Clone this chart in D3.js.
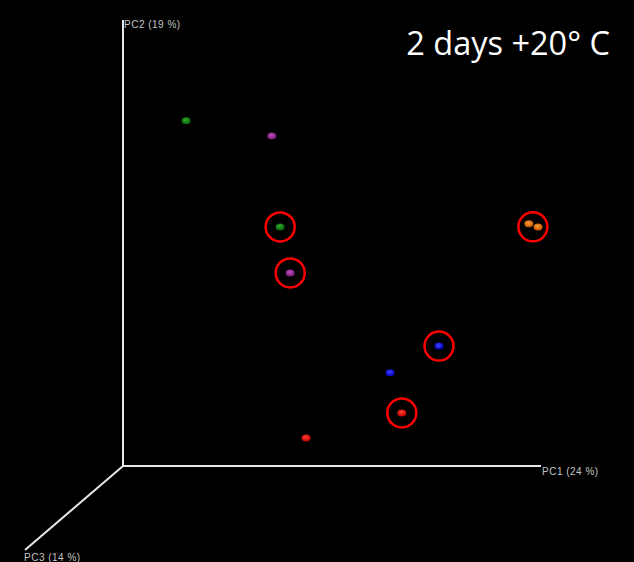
<!DOCTYPE html>
<html lang="en">
<head>
    <meta charset="UTF-8">
    <title>PCoA 2 days +20 C</title>
    <script src="https://d3js.org/d3.v7.min.js"></script>
    <style>
        body { margin: 0; background: #000; }
    </style>
</head>
<body>
<script>
    const width  = 634;
    const height = 562;

    // projected sample positions (PC1 / PC2, % of axis length)
    const samples  = ['G1', 'M1', 'G2', 'M2', 'O1', 'O2', 'B1', 'B2', 'R1', 'R2'];
    const groups   = ['green', 'magenta', 'green', 'magenta', 'orange', 'orange', 'blue', 'blue', 'red', 'red'];
    const pc1      = [15.1, 35.6, 37.6, 40.0, 97.1, 99.3, 75.6, 63.9, 66.7, 43.8];
    const pc2      = [77.4, 74.0, 53.6, 43.3, 54.3, 53.6, 26.9, 20.9, 11.9, 6.3];
    const circled  = [false, false, true, true, true, false, true, false, true, false];
    const axisLabels = ['PC1 (24 %)', 'PC2 (19 %)', 'PC3 (14 %)'];
    const title = '2 days +20\u00B0 C';

    const colors = {
        green:   ['#2fb02f', '#075a07'],
        magenta: ['#c050c0', '#701870'],
        orange:  ['#ff9a38', '#c05400'],
        blue:    ['#4040ff', '#0000b8'],
        red:     ['#ff4030', '#c00000']
    };

    const origin = [123, 466];
    const x = d3.scaleLinear().domain([0, 100]).range([origin[0], 541]);
    const y = d3.scaleLinear().domain([0, 100]).range([origin[1], 20]);
    const z = d3.scaleLinear().domain([0, 100]).range([0, 1]); // depth along PC3 direction

    const svg = d3.select("body")
            .append("svg")
            .attr("width", width)
            .attr("height", height)
            .style("background", "#000");

    const defs = svg.append("defs");
    Object.keys(colors).forEach(k => {
        const grad = defs.append("radialGradient")
                .attr("id", "g-" + k)
                .attr("cx", "45%").attr("cy", "40%").attr("r", "60%");
        grad.append("stop").attr("offset", "0%").attr("stop-color", colors[k][0]);
        grad.append("stop").attr("offset", "100%").attr("stop-color", colors[k][1]);
    });

    // axes
    const axes = svg.append("g")
            .attr("stroke", "#e8e8e8")
            .attr("stroke-width", 2);
    axes.append("line")
            .attr("x1", x(0)).attr("y1", y(0))
            .attr("x2", x(100)).attr("y2", y(0));
    axes.append("line")
            .attr("x1", x(0)).attr("y1", y(0))
            .attr("x2", x(0)).attr("y2", y(100));
    axes.append("line")
            .attr("x1", x(0)).attr("y1", y(0))
            .attr("x2", x(0) - 98 * z(100)).attr("y2", y(0) + 84 * z(100));

    const labelStyle = sel => sel
            .attr("fill", "#c4c4c4")
            .attr("font-family", "Liberation Sans, Arial, sans-serif")
            .attr("font-size", 10)
            .attr("letter-spacing", 0.5);

    svg.append("text").text(axisLabels[0])
            .attr("x", x(100) + 1).attr("y", y(0) + 9).call(labelStyle);
    svg.append("text").text(axisLabels[1])
            .attr("x", x(0) + 1).attr("y", y(100) + 8).call(labelStyle);
    svg.append("text").text(axisLabels[2])
            .attr("x", 24).attr("y", 561).call(labelStyle);

    // sample points
    const idx = d3.range(samples.length);
    svg.append("g")
            .selectAll("ellipse")
            .data(idx)
            .join("ellipse")
            .attr("cx", i => x(pc1[i]))
            .attr("cy", i => y(pc2[i]))
            .attr("rx", 4.5)
            .attr("ry", 3.5)
            .attr("fill", i => "url(#g-" + groups[i] + ")");

    // red highlight circles
    svg.append("g")
            .selectAll("circle")
            .data(idx.filter(i => circled[i]))
            .join("circle")
            .attr("cx", i => x(pc1[i]) + (groups[i] === 'orange' ? 4 : 0))
            .attr("cy", i => y(pc2[i]) + (groups[i] === 'orange' ? 3 : 0))
            .attr("r", 14.5)
            .attr("fill", "none")
            .attr("stroke", "#ff0000")
            .attr("stroke-width", 2.5);

    svg.append("text")
            .text(title)
            .attr("x", 610)
            .attr("y", 55)
            .attr("text-anchor", "end")
            .attr("fill", "#fff")
            .attr("font-family", "Open Sans, sans-serif")
            .attr("font-size", 32.5);
</script>
</body>
</html>
